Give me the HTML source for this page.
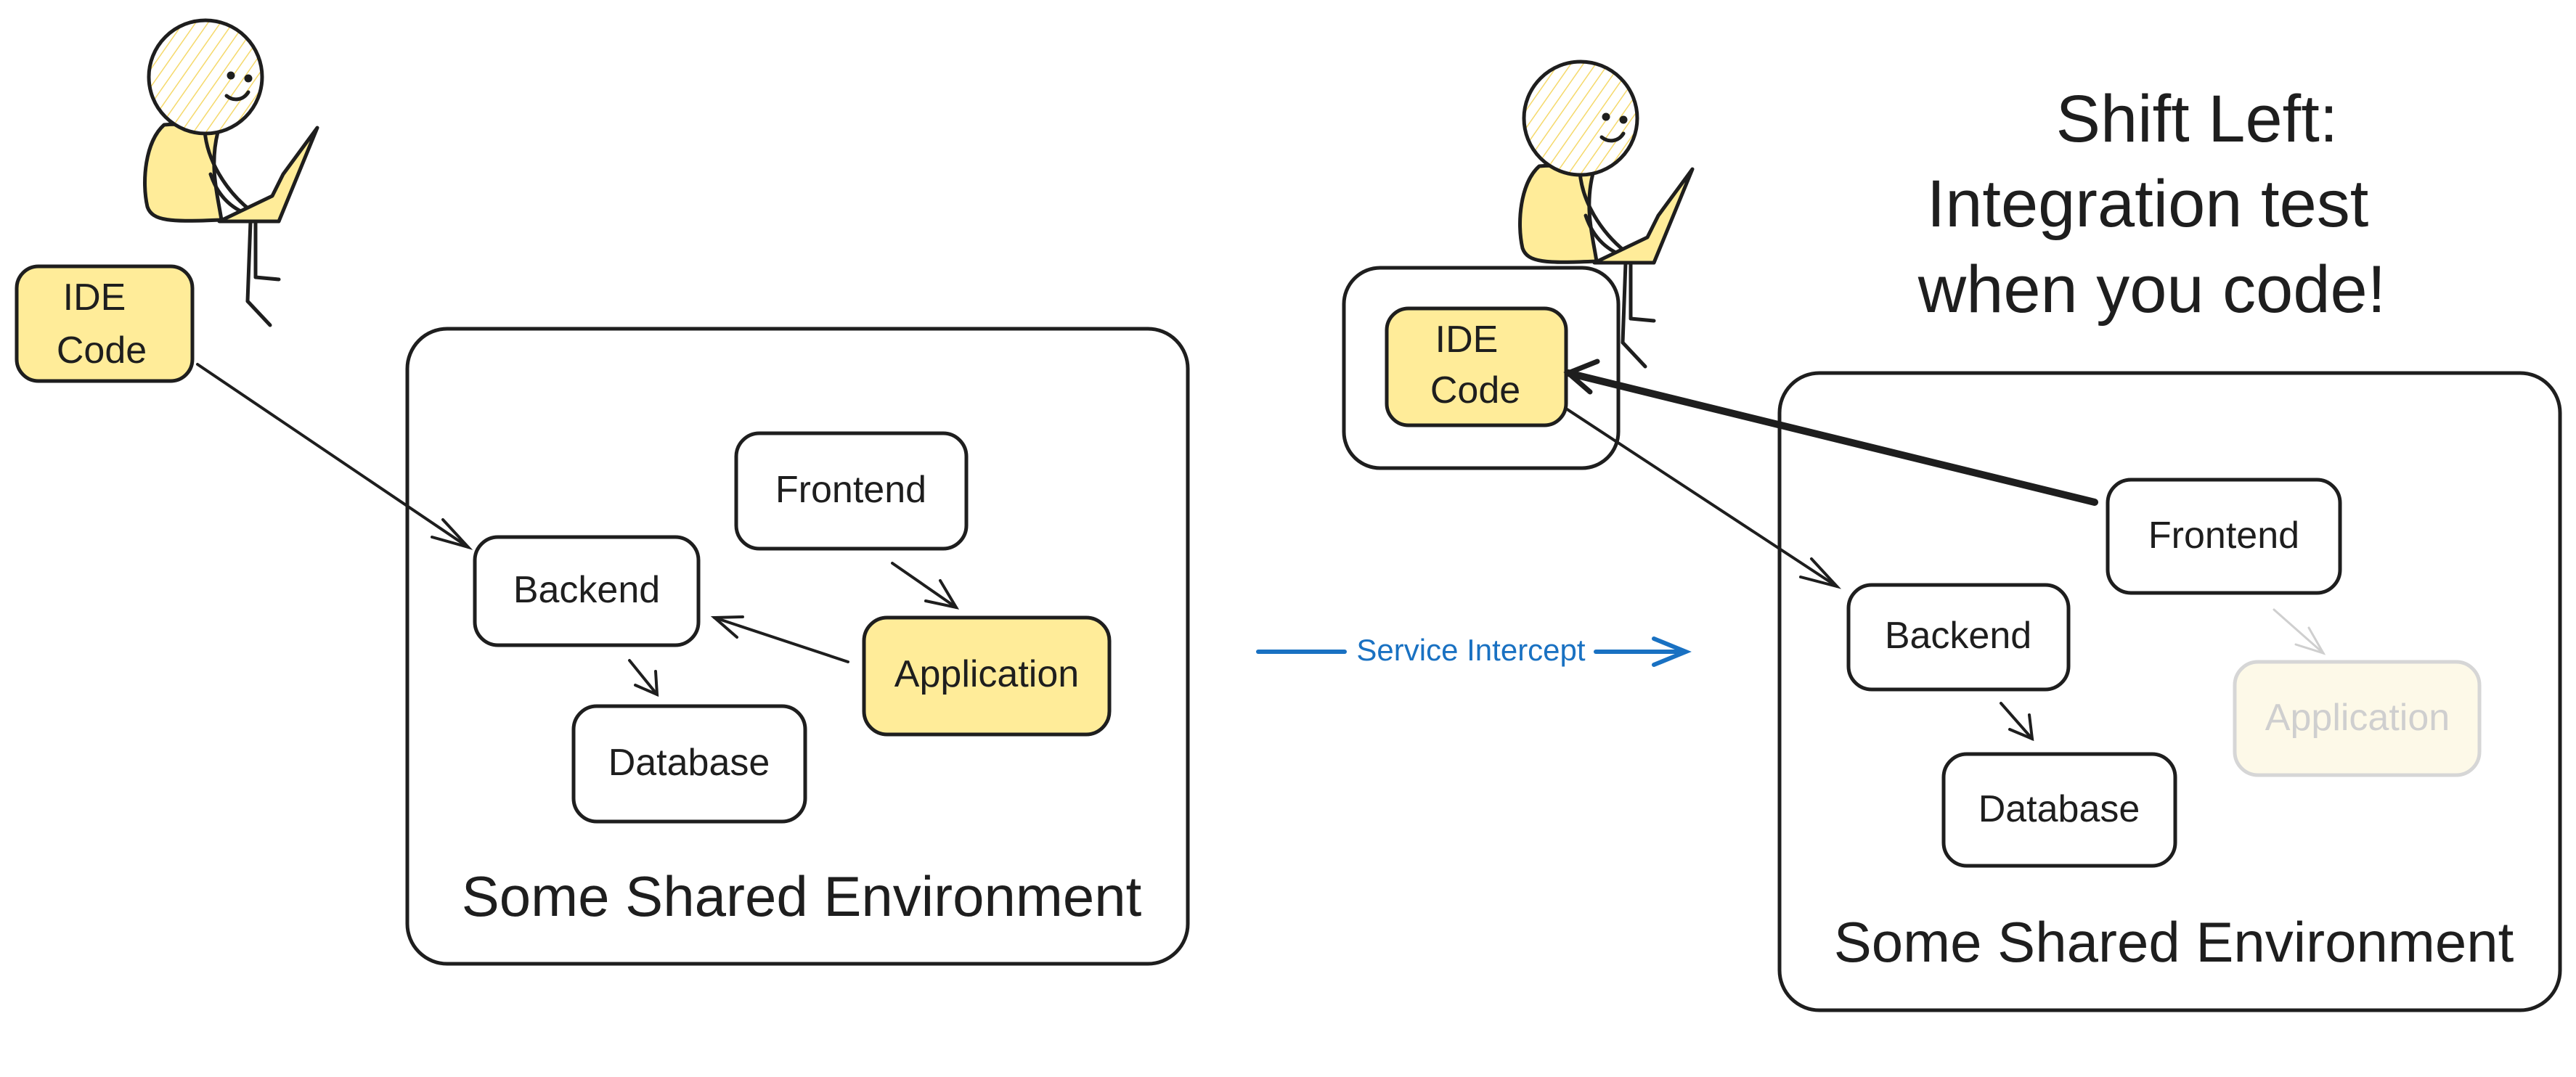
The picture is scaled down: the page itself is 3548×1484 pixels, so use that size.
<!DOCTYPE html>
<html><head><meta charset="utf-8"><style>
html,body{margin:0;padding:0;background:#fff;}
svg{display:block}
text{font-family:"Liberation Sans",sans-serif;fill:#1e1e1e}
</style></head><body>
<svg width="3548" height="1484" viewBox="0 0 3548 1484" xmlns="http://www.w3.org/2000/svg">
<defs>
<pattern id="hatch" width="14" height="14" patternUnits="userSpaceOnUse" patternTransform="rotate(35)">
<rect width="14" height="14" fill="#fff"/>
<line x1="0" y1="0" x2="0" y2="14" stroke="#f5d96b" stroke-width="3"/>
</pattern>
<g id="person" stroke="#1e1e1e" stroke-width="5" fill="none" stroke-linecap="round" stroke-linejoin="round">
<path d="M226 172 C200 195 195 250 203 285 C210 305 235 306 305 303 C300 270 288 230 300 182 C280 172 250 170 226 172 Z" fill="#ffec99"/>
<path d="M282 180 C285 220 310 262 345 290" />
<path d="M290 240 C300 270 320 290 350 298"/>
<path d="M302 305 L384 305 L437 176 L390 240 L375 270 Z" fill="#ffec99"/>
<line x1="352" y1="305" x2="352" y2="382"/><line x1="352" y1="382" x2="384" y2="385"/>
<line x1="345" y1="305" x2="341" y2="415"/><line x1="341" y1="415" x2="372" y2="448"/>
<circle cx="283" cy="106" r="78" fill="url(#hatch)"/>
<circle cx="318" cy="104" r="3" fill="#1e1e1e"/><circle cx="342" cy="108" r="3" fill="#1e1e1e"/>
<path d="M312 132 C322 140 335 138 342 127"/>
</g>
</defs>

<g stroke="#1e1e1e" stroke-width="5" fill="none">
<use href="#person"/>
<rect x="23" y="367" width="242" height="158" rx="30" fill="#ffec99"/>
<rect x="561" y="453" width="1075" height="875" rx="55"/>
<rect x="1014" y="597" width="317" height="159" rx="32" fill="#fff"/>
<rect x="654" y="740" width="308" height="149" rx="32" fill="#fff"/>
<rect x="1190" y="851" width="338" height="161" rx="32" fill="#ffec99"/>
<rect x="790" y="973" width="319" height="159" rx="32" fill="#fff"/>
</g>
<g stroke="#1e1e1e" stroke-width="4" fill="none" stroke-linecap="round">
<line x1="272" y1="502" x2="645" y2="754"/><path d="M610 716 L645 754 L595 740"/>
<line x1="1229" y1="776" x2="1317" y2="837"/><path d="M1295 800 L1317 837 L1275 828"/>
<line x1="1168" y1="912" x2="984" y2="851"/><path d="M1023 850 L984 851 L1015 878"/>
<line x1="867" y1="910" x2="905" y2="957"/><path d="M903 925 L905 957 L875 944"/>
</g>
<g font-size="52" text-anchor="middle">
<text x="130" y="427">IDE</text><text x="140" y="500">Code</text>
<text x="1172" y="692">Frontend</text>
<text x="808" y="830">Backend</text>
<text x="1359" y="946">Application</text>
<text x="949" y="1068">Database</text>
</g>
<text x="1104" y="1262" font-size="78" text-anchor="middle">Some Shared Environment</text>

<g stroke="#1971c2" stroke-width="6" fill="none" stroke-linecap="round">
<line x1="1733" y1="898" x2="1852" y2="898"/><line x1="2198" y1="898" x2="2320" y2="898"/>
<path d="M2278 880 L2322 898 L2278 916"/>
</g>
<text x="2026" y="910" font-size="42" text-anchor="middle" style="fill:#1971c2">Service Intercept</text>

<g stroke="#1e1e1e" stroke-width="5" fill="none">
<rect x="1851" y="369" width="378" height="276" rx="50" fill="#fff"/>
<use href="#person" transform="translate(1894,57)"/>
<rect x="1910" y="425" width="247" height="161" rx="30" fill="#ffec99"/>
<rect x="2451" y="514" width="1075" height="878" rx="55"/>
<rect x="2903" y="661" width="320" height="156" rx="32" fill="#fff"/>
<rect x="2546" y="806" width="303" height="144" rx="32" fill="#fff"/>
<rect x="3078" y="912" width="337" height="156" rx="32" fill="#fdf9e8" stroke="#d6d6d6"/>
<rect x="2677" y="1039" width="319" height="154" rx="32" fill="#fff"/>
</g>
<g stroke="#1e1e1e" fill="none" stroke-linecap="round">
<line x1="2885" y1="692" x2="2160" y2="514" stroke-width="10"/>
<path d="M2200 498 L2160 514 L2190 540" stroke-width="7"/>
<line x1="2157" y1="563" x2="2530" y2="808" stroke-width="4"/><path d="M2495 770 L2530 808 L2480 795" stroke-width="4"/>
<line x1="2756" y1="969" x2="2799" y2="1018" stroke-width="4"/><path d="M2795 985 L2799 1018 L2768 1005" stroke-width="4"/>
<g stroke="#cfcfcf" stroke-width="3"><line x1="3132" y1="840" x2="3200" y2="900"/><path d="M3180 865 L3200 900 L3162 888"/></g>
</g>
<g font-size="52" text-anchor="middle">
<text x="2020" y="485">IDE</text><text x="2032" y="555">Code</text>
<text x="3063" y="755">Frontend</text>
<text x="2697" y="893">Backend</text>
<text x="3247" y="1006" style="fill:#cfcfcf">Application</text>
<text x="2836" y="1132">Database</text>
</g>
<text x="2994" y="1325" font-size="78" text-anchor="middle">Some Shared Environment</text>
<g font-size="92" text-anchor="middle">
<text x="3026" y="195">Shift Left:</text>
<text x="2958" y="312">Integration test</text>
<text x="2964" y="430">when you code!</text>
</g>
</svg>
</body></html>
